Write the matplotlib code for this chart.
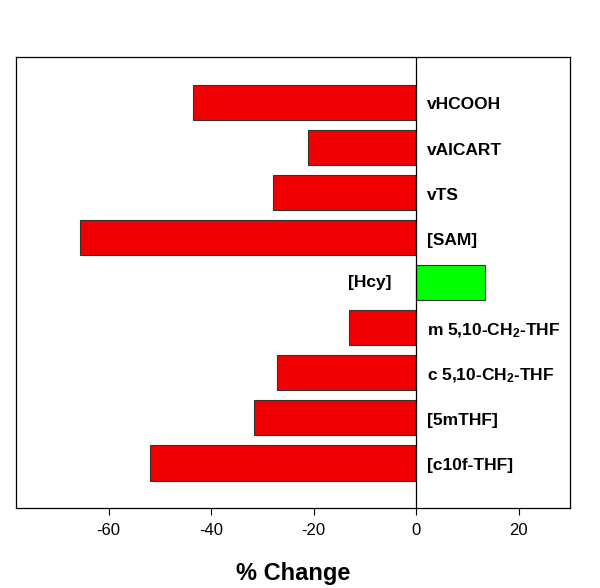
import numpy as np
import matplotlib
matplotlib.use("Agg")
import matplotlib.pyplot as plt

plt.rcParams['font.family'] = ['Liberation Sans', 'DejaVu Sans']
plt.rcParams['mathtext.fontset'] = 'custom'
plt.rcParams['mathtext.bf'] = 'Liberation Sans:bold'
plt.rcParams['mathtext.rm'] = 'Liberation Sans:bold'
plt.rcParams['mathtext.default'] = 'bf'

# данные (сверху вниз)
labels = ['vHCOOH', 'vAICART', 'vTS', '[SAM]', '[Hcy]',
          'm 5,10-CH$_2$-THF', 'c 5,10-CH$_2$-THF', '[5mTHF]', '[c10f-THF]']
values = [-43.5, -21.0, -28.0, -65.6, 13.5, -13.1, -27.2, -31.7, -52.0]
x_ticks = [-60, -40, -20, 0, 20]

pos = np.arange(len(labels))[::-1]
colors = ['#f00000' if v < 0 else '#00ff00' for v in values]

fig = plt.figure(figsize=(6, 5.88), dpi=100)
ax = fig.add_axes([0.027, 0.136, 0.923, 0.767])

ax.barh(pos, values, height=0.78, color=colors, edgecolor='#333333', linewidth=0.8, zorder=2)
ax.axvline(0, color='black', linewidth=0.9, zorder=3)

for p, v, lab in zip(pos, values, labels):
    if v < 0:
        ax.annotate(lab, (0, p), xytext=(8, -2), textcoords='offset points',
                    ha='left', va='center', fontsize=12.5, fontweight='bold')
    else:
        ax.annotate(lab, (0, p), xytext=(-18, 0), textcoords='offset points',
                    ha='right', va='center', fontsize=12.5, fontweight='bold')

ax.set_xlim(-78, 30)
ax.set_ylim(-1, len(labels))
ax.set_yticks([])
ax.set_xticks(x_ticks)
ax.set_xticklabels([str(t) for t in x_ticks], fontsize=12)
ax.tick_params(axis='x', direction='out', length=5, width=0.8, pad=6)
for s in ax.spines.values():
    s.set_linewidth(0.9)

ax.set_xlabel('% Change', fontsize=17, fontweight='bold', labelpad=17)

fig.savefig('out.png', dpi=100)
